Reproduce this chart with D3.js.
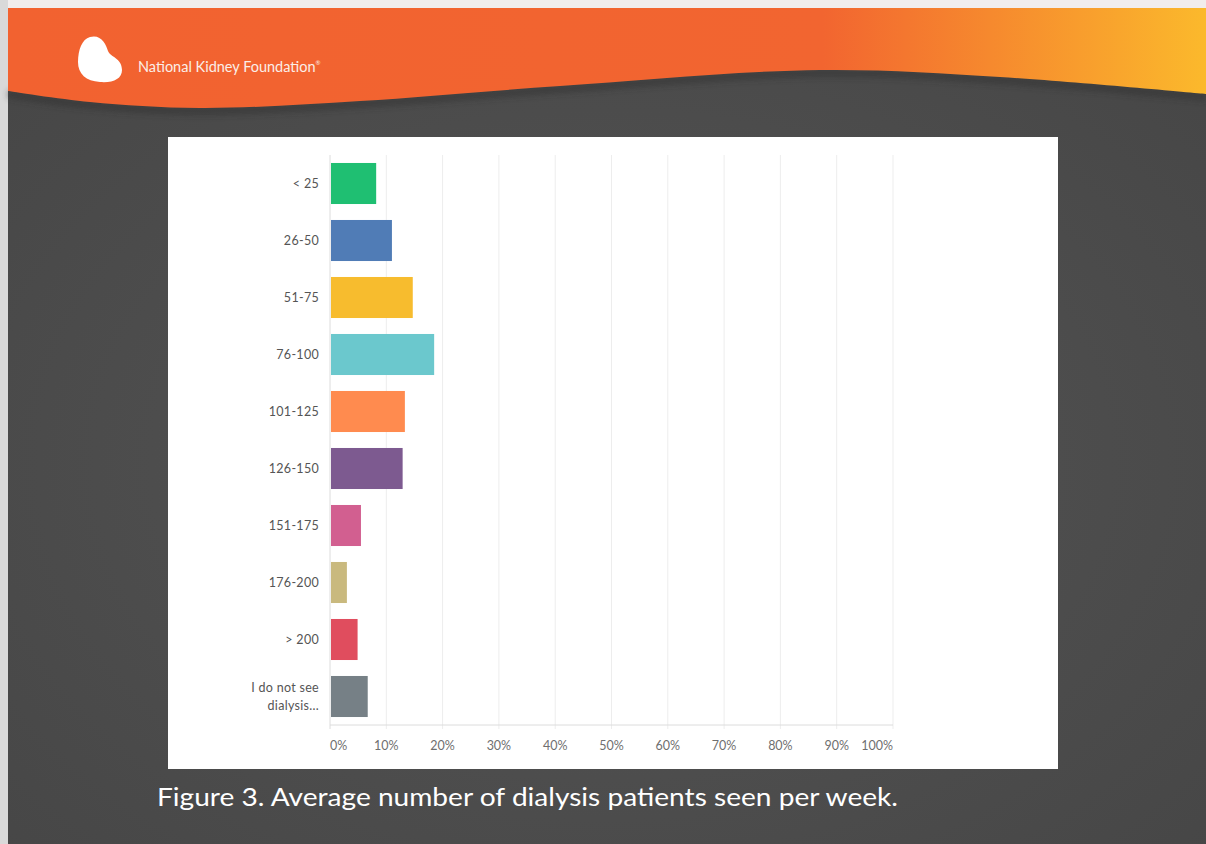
<!DOCTYPE html>
<html>
<head>
<meta charset="utf-8">
<script src="https://cdn.jsdelivr.net/npm/d3@7"></script>
<style>
  html, body { margin: 0; padding: 0; background: #4d4d4d; }
  svg { display: block; }
</style>
</head>
<body>
<svg id="slide" width="1206" height="844"></svg>
<script>
// Survey answers: average number of dialysis patients seen per week
const categories = ["< 25", "26-50", "51-75", "76-100", "101-125", "126-150", "151-175", "176-200", "> 200", "I do not see\ndialysis..."];
const percents = [8.2, 11.0, 14.7, 18.5, 13.3, 12.9, 5.5, 3.0, 4.9, 6.7];
const barColors = ["#1fbf72", "#507cb6", "#f7bc2e", "#6bc8cd", "#ff8b4f", "#7d5a90", "#d25f90", "#c9b97e", "#e04d5e", "#768086"];
const tickValues = [0, 10, 20, 30, 40, 50, 60, 70, 80, 90, 100];
const caption = "Figure 3. Average number of dialysis patients seen per week.";
const brand = "National Kidney Foundation";

const svg = d3.select("#slide");
const defs = svg.append("defs");

// ---- slide background ----
const bg = defs.append("radialGradient").attr("id", "bgGrad")
  .attr("cx", "50%").attr("cy", "55%").attr("r", "70%");
bg.append("stop").attr("offset", "0%").attr("stop-color", "#555555");
bg.append("stop").attr("offset", "100%").attr("stop-color", "#464646");
svg.append("rect").attr("width", 1206).attr("height", 844).attr("fill", "url(#bgGrad)");

// thin light frame at top and left edge
svg.append("rect").attr("x", 0).attr("y", 0).attr("width", 1206).attr("height", 8).attr("fill", "#f1eded");
svg.append("rect").attr("x", 0).attr("y", 0).attr("width", 8).attr("height", 844).attr("fill", "#d9d9d9");

// ---- header banner ----
const hdr = defs.append("linearGradient").attr("id", "hdrGrad").attr("x1", "0%").attr("x2", "100%");
hdr.append("stop").attr("offset", "0%").attr("stop-color", "#f26230");
hdr.append("stop").attr("offset", "68%").attr("stop-color", "#f26530");
hdr.append("stop").attr("offset", "82%").attr("stop-color", "#f6892e");
hdr.append("stop").attr("offset", "100%").attr("stop-color", "#fbb92c");

const edgePts = [[8, 91], [90, 102], [200, 108], [360, 101], [560, 86], [820, 70], [1000, 77], [1206, 94]];
const edge = d3.line().curve(d3.curveCatmullRom.alpha(0.5));

defs.append("filter").attr("id", "soft").attr("x", "-5%").attr("y", "-50%").attr("width", "110%").attr("height", "200%")
  .append("feGaussianBlur").attr("stdDeviation", 3);

// soft shadow beneath the wave
svg.append("path")
  .attr("d", edge(edgePts.map(([x, y]) => [x, y + 3])))
  .attr("fill", "none").attr("stroke", "#2e2e2e").attr("stroke-width", 7)
  .attr("opacity", 0.55).attr("filter", "url(#soft)");

svg.append("path")
  .attr("d", "M8,8 L1206,8 L1206,94 " + edge(edgePts.slice().reverse()).replace(/^M/, "L") + " Z")
  .attr("fill", "url(#hdrGrad)");

// logo mark
svg.append("path")
  .attr("d", "M90,37 C101,34 106,44 108,51 C110,57 122,58 122,70 C122,79 113,83 100,82 C86,81 78,74 78,62 C78,50 82,39 90,37 Z")
  .attr("fill", "#ffffff");

const brandText = svg.append("text")
  .attr("x", 138).attr("y", 72)
  .attr("font-family", "Lato, 'Open Sans', sans-serif")
  .attr("font-size", 14.5).attr("fill", "#fbeee8")
  .text(brand);
brandText.append("tspan").attr("font-size", 6).attr("dy", -7).text("®");

// ---- chart panel ----
svg.append("rect").attr("x", 168).attr("y", 137).attr("width", 890).attr("height", 632).attr("fill", "#ffffff");

const plot = { left: 330, right: 893, top: 155, bottom: 725 };

const x = d3.scaleLinear().domain([0, 100]).range([plot.left, plot.right]);
const y = d3.scaleBand().domain(categories).range([plot.top, plot.bottom]).paddingInner(0.28).paddingOuter(0.14);

// vertical gridlines
svg.append("g").selectAll("line").data(tickValues).join("line")
  .attr("x1", d => x(d)).attr("x2", d => x(d))
  .attr("y1", plot.top).attr("y2", plot.bottom + 4)
  .attr("stroke", d => d === 0 ? "#dcdcdc" : "#ededed").attr("stroke-width", 1);

// x axis baseline
svg.append("line")
  .attr("x1", plot.left).attr("x2", plot.right)
  .attr("y1", plot.bottom).attr("y2", plot.bottom)
  .attr("stroke", "#dcdcdc");

// x tick labels (end labels stay inside the plot range)
svg.append("g").selectAll("text").data(tickValues).join("text")
  .attr("x", d => x(d))
  .attr("y", plot.bottom + 25)
  .attr("text-anchor", (d, i) => i === 0 ? "start" : (i === tickValues.length - 1 ? "end" : "middle"))
  .attr("font-family", "Lato, 'Open Sans', sans-serif")
  .attr("font-size", 12.5).attr("fill", "#6f6f6f")
  .text(d => d + "%");

// bars
svg.append("g").selectAll("rect").data(percents).join("rect")
  .attr("x", x(0) + 1)
  .attr("y", (d, i) => y(categories[i]))
  .attr("width", d => x(d) - x(0) - 1)
  .attr("height", y.bandwidth())
  .attr("fill", (d, i) => barColors[i]);

// category labels
const catLabels = svg.append("g").selectAll("text").data(categories).join("text")
  .attr("text-anchor", "end")
  .attr("font-family", "Lato, 'Open Sans', sans-serif")
  .attr("font-size", 12.5).attr("letter-spacing", 0.3).attr("fill", "#555555")
  .attr("x", plot.left - 11)
  .attr("y", d => y(d) + y.bandwidth() / 2);

catLabels.each(function (d) {
  const lines = d.split("\n");
  const t = d3.select(this);
  lines.forEach((ln, k) => {
    t.append("tspan")
      .attr("x", plot.left - 11)
      .attr("dy", k === 0 ? (4 - (lines.length - 1) * 9) : 18)
      .text(ln);
  });
});

// ---- caption ----
svg.append("text")
  .attr("x", 157).attr("y", 806)
  .attr("font-family", "Lato, 'Open Sans', sans-serif")
  .attr("font-size", 25).attr("fill", "#ffffff")
  .attr("textLength", 741).attr("lengthAdjust", "spacingAndGlyphs")
  .text(caption);
</script>
</body>
</html>
